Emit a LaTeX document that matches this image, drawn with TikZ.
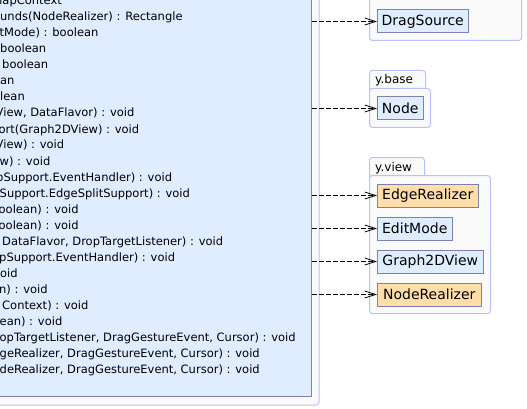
\documentclass[tikz,border=0pt]{standalone}
\usepackage{fontspec}
\setmainfont{DejaVu Sans}
\usetikzlibrary{arrows.meta}
\definecolor{clsfill}{RGB}{224,236,255}
\definecolor{clsdraw}{RGB}{128,128,176}
\definecolor{pkgdraw}{RGB}{184,192,255}
\definecolor{pkgfill}{RGB}{250,250,250}
\definecolor{orfill}{RGB}{255,222,170}
\begin{document}
\begin{tikzpicture}[x=1pt,y=-1pt,
  member/.style={anchor=base west, inner sep=0pt, font=\fontsize{11.5}{13}\selectfont},
  cls/.style={draw=clsdraw, fill=clsfill, line width=1pt, inner xsep=0pt, inner ysep=0pt,
              minimum height=23pt, anchor=north west, font=\fontsize{14}{16}\selectfont},
  hot/.style={cls, fill=orfill},
  pkg/.style={draw=pkgdraw, fill=pkgfill, line width=1pt, rounded corners=3pt},
  pkglabel/.style={anchor=base west, inner sep=0pt, font=\fontsize{12}{14}\selectfont},
  dep/.style={line width=0.8pt, dash pattern=on 4.5pt off 2.5pt,
              -{Straight Barb[length=11pt,width=7pt,line width=0.8pt]}}]
\useasboundingbox (0,0) rectangle (527,409);
% outer package
\draw[pkg] (-30,-30) rectangle (319,405);
% main class box
\node[draw=clsdraw, fill=clsfill, line width=1pt, anchor=south east, inner sep=0pt,
      minimum width=360pt, minimum height=430pt] (main) at (312,397) {};
% members
\node[member] (m1)  at (-5,5)     {napContext};
\node[member] (m2)  at (0,21)     {unds(NodeRealizer) : Rectangle};
\node[member] (m3)  at (-0.5,37)  {tMode) : boolean};
\node[member] (m4)  at (0,53)     {boolean};
\node[member] (m5)  at (2,69)     {boolean};
\node[member] (m6)  at (0,85)     {an};
\node[member] (m7)  at (0,101)    {lean};
\node[member] (m8)  at (-4.5,117) {View, DataFlavor) : void};
\node[member] (m9)  at (-1.5,133) {ort(Graph2DView) : void};
\node[member] (m10) at (-4.5,149) {View) : void};
\node[member] (m11) at (-0.5,165) {w) : void};
\node[member] (m12) at (-4,181)   {pSupport.EventHandler) : void};
\node[member] (m13) at (-0.5,197) {Support.EdgeSplitSupport) : void};
\node[member] (m14) at (-1.5,213) {oolean) : void};
\node[member] (m15) at (-1.5,229) {oolean) : void};
\node[member] (m16) at (2,245)    {DataFlavor, DropTargetListener) : void};
\node[member] (m17) at (-1,261)   {pSupport.EventHandler) : void};
\node[member] (m18) at (0,277)    {oid};
\node[member] (m19) at (-1,293)   {n) : void};
\node[member] (m20) at (2,309)    {Context) : void};
\node[member] (m21) at (-0.5,325) {ean) : void};
\node[member] (m22) at (-0.5,341) {opTargetListener, DragGestureEvent, Cursor) : void};
\node[member] (m23) at (-0.5,357) {geRealizer, DragGestureEvent, Cursor) : void};
\node[member] (m24) at (-0.5,373) {deRealizer, DragGestureEvent, Cursor) : void};
% top package (tab out of view)
\draw[pkg] (369.5,-30) rectangle (521.5,40.5);
\node[cls, minimum width=90.5pt] (ds) at (377,9.5) {DragSource};
% y.base package
\draw[pkg] (369.5,70.5) rectangle (425.5,92);
\draw[pkg] (369.5,88.5) rectangle (430.5,127.5);
\node[pkglabel] (lbase) at (375,84) {y.base};
\node[cls, minimum width=45.5pt] (nd) at (377,96.5) {Node};
% y.view package
\draw[pkg] (369.5,157.5) rectangle (424.5,179);
\draw[pkg] (369.5,175.5) rectangle (490.5,313.5);
\node[pkglabel] (lview) at (375,171) {y.view};
\node[hot, minimum width=100.5pt] (er) at (377,183.5) {EdgeRealizer};
\node[cls, minimum width=74.5pt]  (em) at (377,216.5) {EditMode};
\node[cls, minimum width=105.5pt] (gv) at (377,249.5) {Graph2DView};
\node[hot, minimum width=103.5pt] (nr) at (377,282.5) {NodeRealizer};
% dependencies
\draw[dep] (main.east |- ds.west) -- (ds.west);
\draw[dep] (main.east |- nd.west) -- (nd.west);
\draw[dep] (main.east |- er.west) -- (er.west);
\draw[dep] (main.east |- em.west) -- (em.west);
\draw[dep] (main.east |- gv.west) -- (gv.west);
\draw[dep] (main.east |- nr.west) -- (nr.west);
\end{tikzpicture}
\end{document}
